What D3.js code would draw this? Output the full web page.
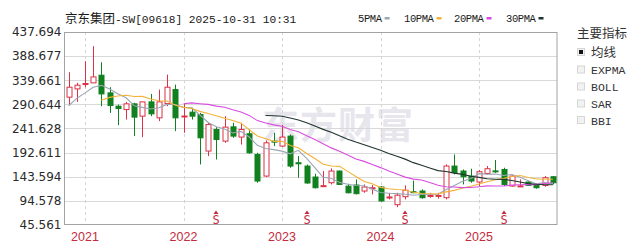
<!DOCTYPE html>
<html>
<head>
<meta charset="utf-8">
<title>京东集团-SW 月K</title>
<script src="https://cdn.jsdelivr.net/npm/d3@7"></script>
<style>
  body { margin: 0; background: #fff; }
  svg { display: block; }
</style>
</head>
<body>
<svg id="chart" width="640" height="246"></svg>
<script>
// monthly candles, Nov 2020 .. Oct 2025
const months = [
  "2020-11","2020-12",
  "2021-01","2021-02","2021-03","2021-04","2021-05","2021-06","2021-07","2021-08","2021-09","2021-10","2021-11","2021-12",
  "2022-01","2022-02","2022-03","2022-04","2022-05","2022-06","2022-07","2022-08","2022-09","2022-10","2022-11","2022-12",
  "2023-01","2023-02","2023-03","2023-04","2023-05","2023-06","2023-07","2023-08","2023-09","2023-10","2023-11","2023-12",
  "2024-01","2024-02","2024-03","2024-04","2024-05","2024-06","2024-07","2024-08","2024-09","2024-10","2024-11","2024-12",
  "2025-01","2025-02","2025-03","2025-04","2025-05","2025-06","2025-07","2025-08","2025-09","2025-10"
];
const opens = [305.3,322.1,
  331,334.3,349.9,314,287,280.1,291.7,266.7,295.7,263.3,292.3,320.7,
  265,274.8,270,195.8,239.6,216,245,224.2,230.9,188.9,145,216,
  205.9,226.2,172,165.3,143,124.5,131.4,155.2,124.5,126.8,114.6,120.4,
  122.7,102,86.8,103.1,113.2,114.6,104.3,104.5,101,165.3,155.2,145,
  132.9,150.3,155.5,158.4,124.7,124,132.9,128,126,143.6];
const highs = [355.9,334.3,
  378.3,408.7,376.2,325.5,290.3,295.7,293.7,295.7,311.9,320.7,351.1,330.8,
  291.7,283.6,273.4,253.2,244.4,266.7,253.2,253.2,239.6,192.3,217.3,232.9,
  248.5,229.4,185.6,168.6,149.7,155.2,160.5,156.3,129.4,138.2,128,126.8,
  124.8,111,111,126,135.9,117.9,111,111,168.6,188.9,158.4,159.9,
  157.2,165.3,177.5,161.9,146.3,138.2,134.9,130,145,145];
const lows = [289,295.7,
  325.5,334.3,287,273.4,248.5,259.8,226.2,224.1,266.7,256.6,287,236.3,
  232.9,259.8,168.6,185.6,178.7,212.6,222.7,209,190.3,131.4,143,205.9,
  203.9,161.9,141.6,129.4,119.9,122.7,128,126.8,110,107.7,111,107.7,
  92.9,97.5,81.8,97.6,110.2,99,101,99,97.6,148.3,128,131.4,
  124.7,148.3,151.7,124.7,123.3,123.3,124.7,119.3,123.3,128];
const closes = [325.5,329.6,
  333,346.4,311.9,288.2,282.1,291.7,264.7,295.7,271.4,295.7,325.5,263.3,
  267,266.7,222.7,249.7,219.3,244.4,226.2,239.6,192.3,134.9,212.6,214,
  224.2,165.3,170,130.9,121.3,125.5,155.2,128,111,109.2,122.7,121.3,
  94.4,102.5,106.1,116.2,111.2,101,105.5,105.7,165.3,151.7,143.6,134.9,
  153.8,159.9,154,128,145,125,126,121.3,141.6,131.4];
// closes Jun..Oct 2020, before the visible window (needed for the averages)
const earlierCloses = [230,255,277,289,293];

const yTicks = [45.561,94.578,143.594,192.611,241.628,290.644,339.661,388.677,437.694];
const yearLabels = ["2021","2022","2023","2024","2025"];
const markMonths = ["2022-05","2023-04","2024-04","2025-04"];
const maPeriods = [5,10,20,30];
const maNames = ["5PMA","10PMA","20PMA","30PMA"];
const indicators = ["均线","EXPMA","BOLL","SAR","BBI"];

const maColors = ["#9aa6b4","#f2b33a","#d94ce0","#1f3530"];
const up = "#dc3146", down = "#11801f";

const svg = d3.select("#chart");
const pLeft = 64.5, pRight = 557, pTop = 32, pBottom = 225;

const x = d3.scaleBand().domain(months).range([pLeft, pRight]).padding(0);
const y = d3.scaleLinear().domain([yTicks[0], yTicks[yTicks.length - 1]]).range([pBottom, pTop]);
const cx = m => x(m) + x.bandwidth() / 2;

// watermark
svg.append("text")
    .attr("x", 262).attr("y", 139)
    .attr("font-family", "Noto Sans CJK SC")
    .attr("font-weight", "bold")
    .attr("font-size", 37)
    .attr("letter-spacing", 1)
    .attr("fill", "#e6e6ec")
    .text("东方财富");

// horizontal grid
svg.append("g")
  .selectAll("line")
  .data(yTicks.slice(1, -1))
  .enter().append("line")
    .attr("x1", pLeft).attr("x2", pRight)
    .attr("y1", d => Math.round(y(d)) + 0.5).attr("y2", d => Math.round(y(d)) + 0.5)
    .attr("stroke", "#d9d9d9");

// vertical year grid (dashed)
svg.append("g")
  .selectAll("line")
  .data(yearLabels)
  .enter().append("line")
    .attr("x1", d => Math.round(cx(d + "-01")) + 0.5).attr("x2", d => Math.round(cx(d + "-01")) + 0.5)
    .attr("y1", pTop).attr("y2", pBottom)
    .attr("stroke", "#d4d4d4")
    .attr("stroke-dasharray", "3,3");

// frame
svg.append("rect")
    .attr("x", pLeft).attr("y", pTop + 0.5)
    .attr("width", pRight - pLeft).attr("height", pBottom - pTop - 1)
    .attr("fill", "none")
    .attr("stroke", "#a3a3a3");

// y axis labels
const yAxis = d3.axisLeft(y).tickValues(yTicks).tickSize(0).tickPadding(3).tickFormat(d3.format(".3f"));
svg.append("g")
    .attr("transform", "translate(" + pLeft + ",0)")
    .call(yAxis)
    .call(g => g.select(".domain").remove())
    .call(g => g.selectAll("text")
        .attr("font-family", "DejaVu Sans")
        .attr("font-size", 12)
        .attr("fill", "#2a2a2a"));

// x year labels
svg.append("g")
  .selectAll("text")
  .data(yearLabels)
  .enter().append("text")
    .attr("x", d => cx(d + "-01"))
    .attr("y", 240.5)
    .attr("text-anchor", "middle")
    .attr("font-family", "Liberation Sans")
    .attr("font-size", 12.5)
    .attr("fill", "#c42b40")
    .text(d => d);

// candles
const candles = months.map((m, i) => ({m: m, o: opens[i], h: highs[i], l: lows[i], c: closes[i]}));
const bw = 5;
const cg = svg.append("g");
cg.selectAll("line")
  .data(candles)
  .enter().append("line")
    .attr("x1", d => Math.round(cx(d.m)) + 0.5).attr("x2", d => Math.round(cx(d.m)) + 0.5)
    .attr("y1", d => y(d.h)).attr("y2", d => y(d.l))
    .attr("stroke", d => d.c >= d.o ? up : down);
cg.selectAll("rect")
  .data(candles)
  .enter().append("rect")
    .attr("x", d => Math.round(cx(d.m)) - bw / 2 + 0.5)
    .attr("y", d => y(Math.max(d.o, d.c)))
    .attr("width", bw)
    .attr("height", d => Math.max(1, Math.abs(y(d.o) - y(d.c))))
    .attr("fill", d => d.c >= d.o ? "#fff" : down)
    .attr("stroke", d => d.c >= d.o ? up : down);

// moving averages
const allCloses = earlierCloses.concat(closes);
const off = earlierCloses.length;
maPeriods.forEach((p, k) => {
  const pts = [];
  months.forEach((m, i) => {
    const j = i + off;
    if (j >= p - 1) pts.push([cx(m), y(d3.mean(allCloses.slice(j - p + 1, j + 1)))]);
  });
  svg.append("path")
      .attr("d", d3.line()(pts))
      .attr("fill", "none")
      .attr("stroke", maColors[k])
      .attr("stroke-width", 1.1);
});

// dividend marks
const mk = svg.append("g").attr("fill", "#c42b40");
markMonths.forEach(m => {
  const px = Math.round(cx(m));
  mk.append("path").attr("d", "M" + (px - 2.5) + ",214L" + px + ",210.5L" + (px + 2.5) + ",214Z");
  mk.append("text")
      .attr("x", px).attr("y", 223.5)
      .attr("text-anchor", "middle")
      .attr("font-family", "DejaVu Sans Mono")
      .attr("font-size", 12)
      .text("S");
});

// title
const title = svg.append("text").attr("x", 65).attr("y", 23).attr("fill", "#1a1a1a");
title.append("tspan").attr("font-family", "Noto Sans CJK SC").attr("font-size", 12.5).text("京东集团");
title.append("tspan").attr("font-family", "Liberation Mono").attr("font-size", 11.2).text("-SW[09618] 2025-10-31 10:31");

// legend
const legX = [358, 404, 454, 506];
maNames.forEach((n, k) => {
  const t = svg.append("text")
      .attr("x", legX[k]).attr("y", 22)
      .attr("font-family", "Liberation Mono")
      .attr("font-size", 10.5)
      .attr("letter-spacing", -0.4)
      .attr("fill", "#1a1a1a")
      .text(n);
  const w = t.node().getComputedTextLength();
  svg.append("rect")
      .attr("x", legX[k] + w + 3).attr("y", 17)
      .attr("width", 5).attr("height", 2.5)
      .attr("fill", maColors[k]);
});

// indicator panel
svg.append("text")
    .attr("x", 577).attr("y", 38)
    .attr("font-family", "Noto Sans CJK SC")
    .attr("font-size", 12.5)
    .attr("fill", "#333")
    .text("主要指标");
const iy = [52, 69.5, 86.5, 103.5, 120];
indicators.forEach((n, k) => {
  svg.append("rect")
      .attr("x", 577.5).attr("y", iy[k] - 3.5)
      .attr("width", 7).attr("height", 7)
      .attr("fill", "#f2f2f2")
      .attr("stroke", "#d6d6d6");
  if (k == 0) {
    svg.append("rect")
        .attr("x", 579).attr("y", iy[k] - 2)
        .attr("width", 4).attr("height", 4)
        .attr("fill", "#111");
  }
  svg.append("text")
      .attr("x", 591).attr("y", iy[k] + 4.5)
      .attr("font-family", k == 0 ? "Noto Sans CJK SC" : "Liberation Mono")
      .attr("font-size", k == 0 ? 12.5 : 11.5)
      .attr("fill", "#333")
      .text(n);
});
</script>
</body>
</html>
